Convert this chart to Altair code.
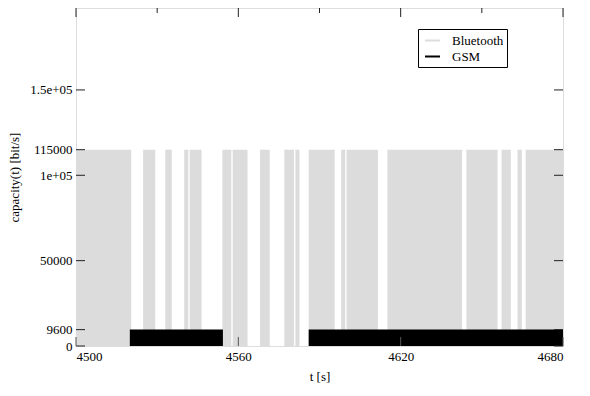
import altair as alt
import pandas as pd

# Bluetooth "on" intervals (capacity 115000 bit/s)
bt_start = [4500.0, 4524.8, 4533.0, 4540.0, 4542.0, 4554.1, 4557.9, 4568.0, 4577.0, 4581.1,
            4586.0, 4598.0, 4600.0, 4615.1, 4644.3, 4657.3, 4663.2, 4666.2]
bt_end = [4520.4, 4529.3, 4535.4, 4541.5, 4546.4, 4557.4, 4563.4, 4571.6, 4580.6, 4582.6,
          4595.6, 4599.5, 4611.6, 4642.7, 4655.8, 4660.7, 4664.8, 4680.0]
bt_capacity = 115000

# GSM "on" intervals (capacity 9600 bit/s)
gsm_start = [4519.9, 4586.0]
gsm_end = [4554.3, 4680.0]
gsm_capacity = 9600

x_major = [4500, 4560, 4620, 4680]
x_minor = [4530, 4590, 4650]
y_ticks = [0, 9600, 50000, 100000, 115000, 150000]
y_labels = ["0", "9600", "50000", "1e+05", "115000", "1.5e+05"]

rows = []
for s, e in zip(bt_start, bt_end):
    rows.append({"series": "Bluetooth", "t0": s, "t1": e, "cap": bt_capacity, "order": 0})
for s, e in zip(gsm_start, gsm_end):
    rows.append({"series": "GSM", "t0": s, "t1": e, "cap": gsm_capacity, "order": 1})
df = pd.DataFrame(rows)

W, H = 487, 338
FONT = "Liberation Serif"

xscale = alt.Scale(domain=[4500, 4680], nice=False, zero=False)
yscale = alt.Scale(domain=[0, 198000], nice=False)

label_expr = "{" + ",".join(f"'{v}':'{l}'" for v, l in zip(y_ticks, y_labels)) + "}[datum.value]"
cscale = alt.Scale(domain=["Bluetooth", "GSM"], range=["#dcdcdc", "#000000"])

x_axis = alt.Axis(values=x_major, title="t [s]", ticks=False, domain=False, grid=False,
                  labelPadding=4, titlePadding=7, format="d",
                  labelFont=FONT, labelFontSize=13, labelColor="black",
                  titleFont=FONT, titleFontSize=13, titleFontWeight="normal",
                  titleColor="black")
y_axis = alt.Axis(values=y_ticks, title="capacity(t) [bit/s]", ticks=False, domain=False,
                  grid=False, labelPadding=4, titlePadding=8, labelExpr=label_expr,
                  labelFont=FONT, labelFontSize=13, labelColor="black",
                  titleFont=FONT, titleFontSize=13, titleFontWeight="normal",
                  titleColor="black")

areas = alt.Chart(df).mark_rect(strokeWidth=0).encode(
    x=alt.X("t0:Q", scale=xscale, axis=x_axis, title="t [s]"),
    x2="t1:Q",
    y=alt.Y("cap:Q", scale=yscale, axis=y_axis, title="capacity(t) [bit/s]"),
    y2=alt.datum(0),
    color=alt.Color("series:N", scale=cscale,
                    legend=alt.Legend(title=None, orient="none", legendX=342, legendY=21,
                                      symbolType="stroke", symbolStrokeWidth=2, symbolSize=225,
                                      strokeColor="black", padding=3, labelFontSize=13,
                                      labelFont=FONT, labelColor="black", rowPadding=0,
                                      labelOffset=11, symbolOffset=3)),
    stroke=alt.Color("series:N", scale=cscale, legend=None),
    order="order:Q",
)

ydf = pd.DataFrame({"v": y_ticks})
xmaj = pd.DataFrame({"v": x_major})
xmin = pd.DataFrame({"v": x_minor})

def yenc():
    return alt.Y("v:Q", scale=yscale, axis=y_axis, title="capacity(t) [bit/s]")

def xenc():
    return alt.X("v:Q", scale=xscale, axis=x_axis, title="t [s]")

left_ticks = alt.Chart(ydf).mark_rule(color="#222", strokeWidth=1).encode(
    y=yenc(), x=alt.value(0), x2=alt.value(9))
right_ticks = alt.Chart(ydf).mark_rule(color="#222", strokeWidth=1).encode(
    y=yenc(), x=alt.value(W - 9), x2=alt.value(W))
bottom_ticks = alt.Chart(xmaj).mark_rule(color="#555", strokeWidth=1).encode(
    x=xenc(), y=alt.value(H - 9), y2=alt.value(H))
top_major = alt.Chart(xmaj).mark_rule(color="#222", strokeWidth=1).encode(
    x=xenc(), y=alt.value(0), y2=alt.value(9))
top_minor = alt.Chart(xmin).mark_rule(color="#222", strokeWidth=1).encode(
    x=xenc(), y=alt.value(0), y2=alt.value(5))

chart = alt.layer(areas, left_ticks, right_ticks, bottom_ticks, top_major, top_minor).properties(
    width=W, height=H,
    autosize=alt.AutoSizeParams(type="none"),
    padding={"left": 68, "top": 0, "right": 10, "bottom": 48},
).configure_view(
    stroke="black", strokeWidth=1.5
).configure(background="white")

chart.save("out.html", embed_options={"renderer": "svg", "actions": False})
